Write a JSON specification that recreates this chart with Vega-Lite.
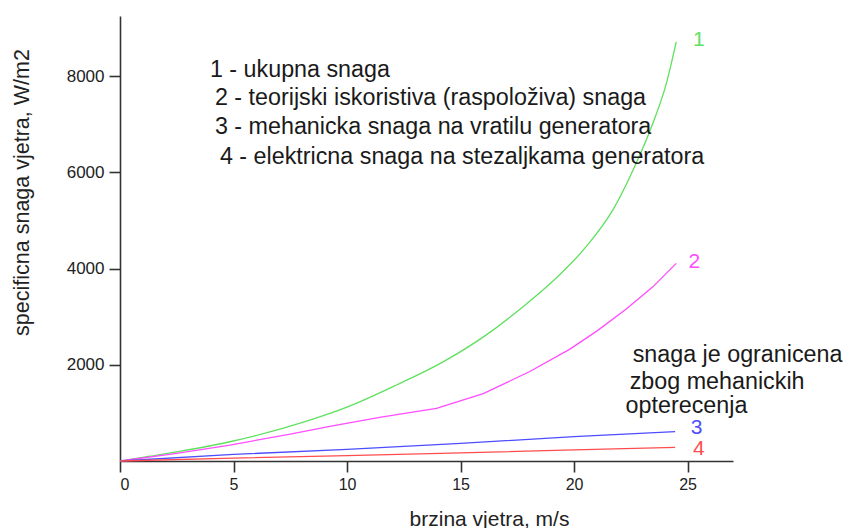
{
  "$schema": "https://vega.github.io/schema/vega-lite/v6.json",
  "autosize": {"type": "none"},
  "width": 613,
  "height": 445,
  "padding": {"left": 120, "top": 16, "right": 113, "bottom": 67},
  "background": "white",
  "config": {
    "view": {"stroke": null},
    "font": "Liberation Sans"
  },
  "datasets": {
    "curves": [
      {"serija": "1", "v": 0, "p": 0},
      {"serija": "1", "v": 2.5, "p": 190},
      {"serija": "1", "v": 4.84, "p": 400},
      {"serija": "1", "v": 8.36, "p": 850},
      {"serija": "1", "v": 10, "p": 1120},
      {"serija": "1", "v": 12.18, "p": 1580},
      {"serija": "1", "v": 14.23, "p": 2060},
      {"serija": "1", "v": 16.43, "p": 2720},
      {"serija": "1", "v": 17.6, "p": 3150},
      {"serija": "1", "v": 19.07, "p": 3740},
      {"serija": "1", "v": 20.54, "p": 4460},
      {"serija": "1", "v": 21.71, "p": 5220},
      {"serija": "1", "v": 22.6, "p": 6050},
      {"serija": "1", "v": 23.47, "p": 7020},
      {"serija": "1", "v": 24.06, "p": 7840},
      {"serija": "1", "v": 24.5, "p": 8710},
      {"serija": "2", "v": 0, "p": 0},
      {"serija": "2", "v": 2.5, "p": 160},
      {"serija": "2", "v": 4.84, "p": 330},
      {"serija": "2", "v": 7.5, "p": 560},
      {"serija": "2", "v": 9.24, "p": 720},
      {"serija": "2", "v": 11.5, "p": 910},
      {"serija": "2", "v": 13.94, "p": 1095},
      {"serija": "2", "v": 16, "p": 1400},
      {"serija": "2", "v": 18.05, "p": 1860},
      {"serija": "2", "v": 19.8, "p": 2320},
      {"serija": "2", "v": 21, "p": 2700},
      {"serija": "2", "v": 22.3, "p": 3160},
      {"serija": "2", "v": 23.47, "p": 3620},
      {"serija": "2", "v": 24.5, "p": 4108},
      {"serija": "3", "v": 0, "p": 0},
      {"serija": "3", "v": 5, "p": 138},
      {"serija": "3", "v": 10, "p": 240},
      {"serija": "3", "v": 15, "p": 367},
      {"serija": "3", "v": 20, "p": 506},
      {"serija": "3", "v": 24.45, "p": 610},
      {"serija": "4", "v": 0, "p": 0},
      {"serija": "4", "v": 5, "p": 60},
      {"serija": "4", "v": 10, "p": 110},
      {"serija": "4", "v": 15, "p": 170},
      {"serija": "4", "v": 20, "p": 230},
      {"serija": "4", "v": 24.45, "p": 285}
    ],
    "endLabels": [
      {"serija": "1", "v": 25.5, "p": 8750},
      {"serija": "2", "v": 25.3, "p": 4135},
      {"serija": "3", "v": 25.4, "p": 676},
      {"serija": "4", "v": 25.5, "p": 250}
    ],
    "notes": [
      {"txt": "1 - ukupna snaga", "v": 3.96, "p": 8125},
      {"txt": "2 - teorijski iskoristiva (raspoloživa) snaga", "v": 4.18, "p": 7543},
      {"txt": "3 - mehanicka snaga na vratilu generatora", "v": 4.18, "p": 6940},
      {"txt": "4 - elektricna snaga na stezaljkama generatora", "v": 4.4, "p": 6317},
      {"txt": "snaga je ogranicena", "v": 22.58, "p": 2203},
      {"txt": "zbog mehanickih", "v": 22.45, "p": 1642},
      {"txt": "opterecenja", "v": 22.27, "p": 1150}
    ]
  },
  "layer": [
    {
      "data": {"name": "curves"},
      "transform": [{"filter": "datum.serija == '1'"}],
      "mark": {"type": "line", "strokeWidth": 1.3, "clip": false, "interpolate": "monotone"},
      "encoding": {
        "x": {
          "field": "v", "type": "quantitative",
          "scale": {"domain": [0, 27], "nice": false},
          "axis": {
            "title": "brzina vjetra, m/s",
            "values": [0, 5, 10, 15, 20, 25],
            "format": "d",
            "grid": false,
            "domainColor": "#333333", "domainWidth": 1.6,
            "tickColor": "#333333", "tickWidth": 1.6, "tickSize": 11,
            "labelFont": "Liberation Sans", "labelFontSize": 16, "labelColor": "#222222", "labelPadding": 4,
            "titleFont": "Liberation Sans", "titleFontSize": 21, "titleFontWeight": "normal", "titleColor": "#222222",
            "titleX": 369, "titleY": 64, "titleBaseline": "alphabetic", "titleAnchor": null
          }
        },
        "y": {
          "field": "p", "type": "quantitative",
          "scale": {"domain": [0, 9250], "nice": false},
          "axis": {
            "title": "specificna snaga vjetra, W/m2",
            "values": [2000, 4000, 6000, 8000],
            "format": "d",
            "grid": false,
            "domainColor": "#333333", "domainWidth": 1.6,
            "tickColor": "#333333", "tickWidth": 1.6, "tickSize": 11,
            "labelFont": "Liberation Sans", "labelFontSize": 17, "labelColor": "#222222", "labelPadding": 5,
            "titleFont": "Liberation Sans", "titleFontSize": 21.5, "titleFontWeight": "normal", "titleColor": "#222222",
            "titleX": -92, "titleY": 176, "titleAngle": -90, "titleBaseline": "alphabetic", "titleAnchor": null, "titleAlign": "center"
          }
        },
        "color": {
          "field": "serija", "type": "nominal",
          "scale": {"domain": ["1", "2", "3", "4"], "range": ["#5fe05f", "#ff4dff", "#4d4dff", "#ff4d4d"]},
          "legend": null
        }
      }
    },
    {
      "data": {"name": "curves"},
      "transform": [{"filter": "datum.serija != '1'"}],
      "mark": {"type": "line", "strokeWidth": 1.3, "clip": false},
      "encoding": {
        "x": {"field": "v", "type": "quantitative"},
        "y": {"field": "p", "type": "quantitative"},
        "color": {"field": "serija", "type": "nominal", "legend": null}
      }
    },
    {
      "data": {"name": "endLabels"},
      "mark": {"type": "text", "fontSize": 21, "align": "center", "baseline": "middle", "font": "Liberation Sans"},
      "encoding": {
        "x": {"field": "v", "type": "quantitative"},
        "y": {"field": "p", "type": "quantitative"},
        "text": {"field": "serija"},
        "color": {"field": "serija", "type": "nominal", "legend": null}
      }
    },
    {
      "data": {"name": "notes"},
      "mark": {"type": "text", "fontSize": 23.3, "align": "left", "baseline": "middle", "color": "#1a1a1a", "font": "Liberation Sans"},
      "encoding": {
        "x": {"field": "v", "type": "quantitative"},
        "y": {"field": "p", "type": "quantitative"},
        "text": {"field": "txt"}
      }
    }
  ]
}
